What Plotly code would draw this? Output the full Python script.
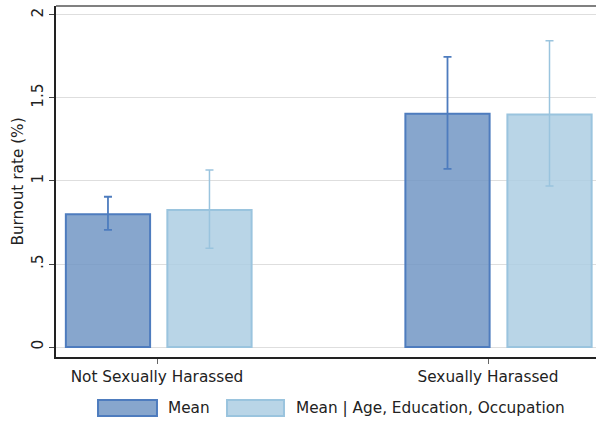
import plotly.graph_objects as go

categories = ["Not Sexually Harassed", "Sexually Harassed"]
series_names = ["Mean", "Mean | Age, Education, Occupation"]
mean_vals = [0.80, 1.405]
mean_lo = [0.705, 1.073]
mean_hi = [0.905, 1.748]
adj_vals = [0.825, 1.40]
adj_lo = [0.595, 0.97]
adj_hi = [1.066, 1.845]
ytick_vals = [0, 0.5, 1, 1.5, 2]
ytick_text = ["0", ".5", "1", "1.5", "2"]

# layout positions (numeric x axis)
mean_pos = [1.0, 4.345]
adj_pos = [2.0, 5.35]
cat_pos = [1.483, 4.744]

FONT = "DejaVu Sans"
FS = 15.3
mean_fill = "rgba(114,151,196,0.85)"
mean_line = "rgb(78,124,190)"
adj_fill = "rgba(173,206,227,0.85)"
adj_line = "rgb(154,196,222)"

fig = go.Figure()
fig.add_trace(go.Bar(
    x=mean_pos, y=mean_vals, width=0.83, name=series_names[0],
    marker=dict(color=mean_fill, line=dict(color=mean_line, width=2)),
    error_y=dict(type="data", symmetric=False,
                 array=[h - v for h, v in zip(mean_hi, mean_vals)],
                 arrayminus=[v - l for l, v in zip(mean_lo, mean_vals)],
                 color=mean_line, thickness=1.8, width=4),
    showlegend=False))
fig.add_trace(go.Bar(
    x=adj_pos, y=adj_vals, width=0.83, name=series_names[1],
    marker=dict(color=adj_fill, line=dict(color=adj_line, width=2)),
    error_y=dict(type="data", symmetric=False,
                 array=[h - v for h, v in zip(adj_hi, adj_vals)],
                 arrayminus=[v - l for l, v in zip(adj_lo, adj_vals)],
                 color=adj_line, thickness=1.5, width=4),
    showlegend=False))

# manual legend
legend_items = [
    (0.0778, 0.187, 0.2037, mean_fill, mean_line, series_names[0]),
    (0.3167, 0.4222, 0.4407, adj_fill, adj_line, series_names[1]),
]
for x0, x1, tx, fc, lc, name in legend_items:
    fig.add_shape(type="rect", xref="paper", yref="paper", x0=x0, x1=x1,
                  y0=-0.168, y1=-0.1225, fillcolor=fc, line=dict(color=lc, width=2))
    fig.add_annotation(xref="paper", yref="paper", x=tx, y=-0.1453, text=name,
                       showarrow=False, xanchor="left", yanchor="middle",
                       font=dict(family=FONT, size=FS, color="#222"))

# top border
fig.add_shape(type="line", xref="paper", yref="paper", x0=0, x1=1, y0=1, y1=1,
              line=dict(color="#808080", width=2))

fig.update_layout(
    width=596, height=421,
    margin=dict(l=56, r=0, t=6, b=64),
    paper_bgcolor="white", plot_bgcolor="white",
    barmode="overlay",
    font=dict(family=FONT, size=FS, color="#222"),
    xaxis=dict(range=[0.488, 5.808], tickvals=cat_pos, ticktext=categories,
               showgrid=False, zeroline=False, showline=True, linecolor="#222",
               linewidth=1.5, ticks="outside", ticklen=5, tickcolor="#666",
               tickfont=dict(family=FONT, size=FS, color="#222")),
    yaxis=dict(range=[-0.0602, 2.054], tickvals=ytick_vals, ticktext=ytick_text,
               tickangle=-90, showgrid=True, gridcolor="#dedede", gridwidth=1,
               zeroline=False, showline=True, linecolor="#222", linewidth=1.5,
               ticks="outside", ticklen=5, tickcolor="#444",
               tickfont=dict(family=FONT, size=FS, color="#222"),
               title=dict(text="Burnout rate (%)", standoff=2,
                          font=dict(family=FONT, size=FS, color="#222"))),
)

fig.write_html("out.html", config={"displayModeBar": False},
               post_script="document.body.style.margin='0';document.body.style.padding='0';")
